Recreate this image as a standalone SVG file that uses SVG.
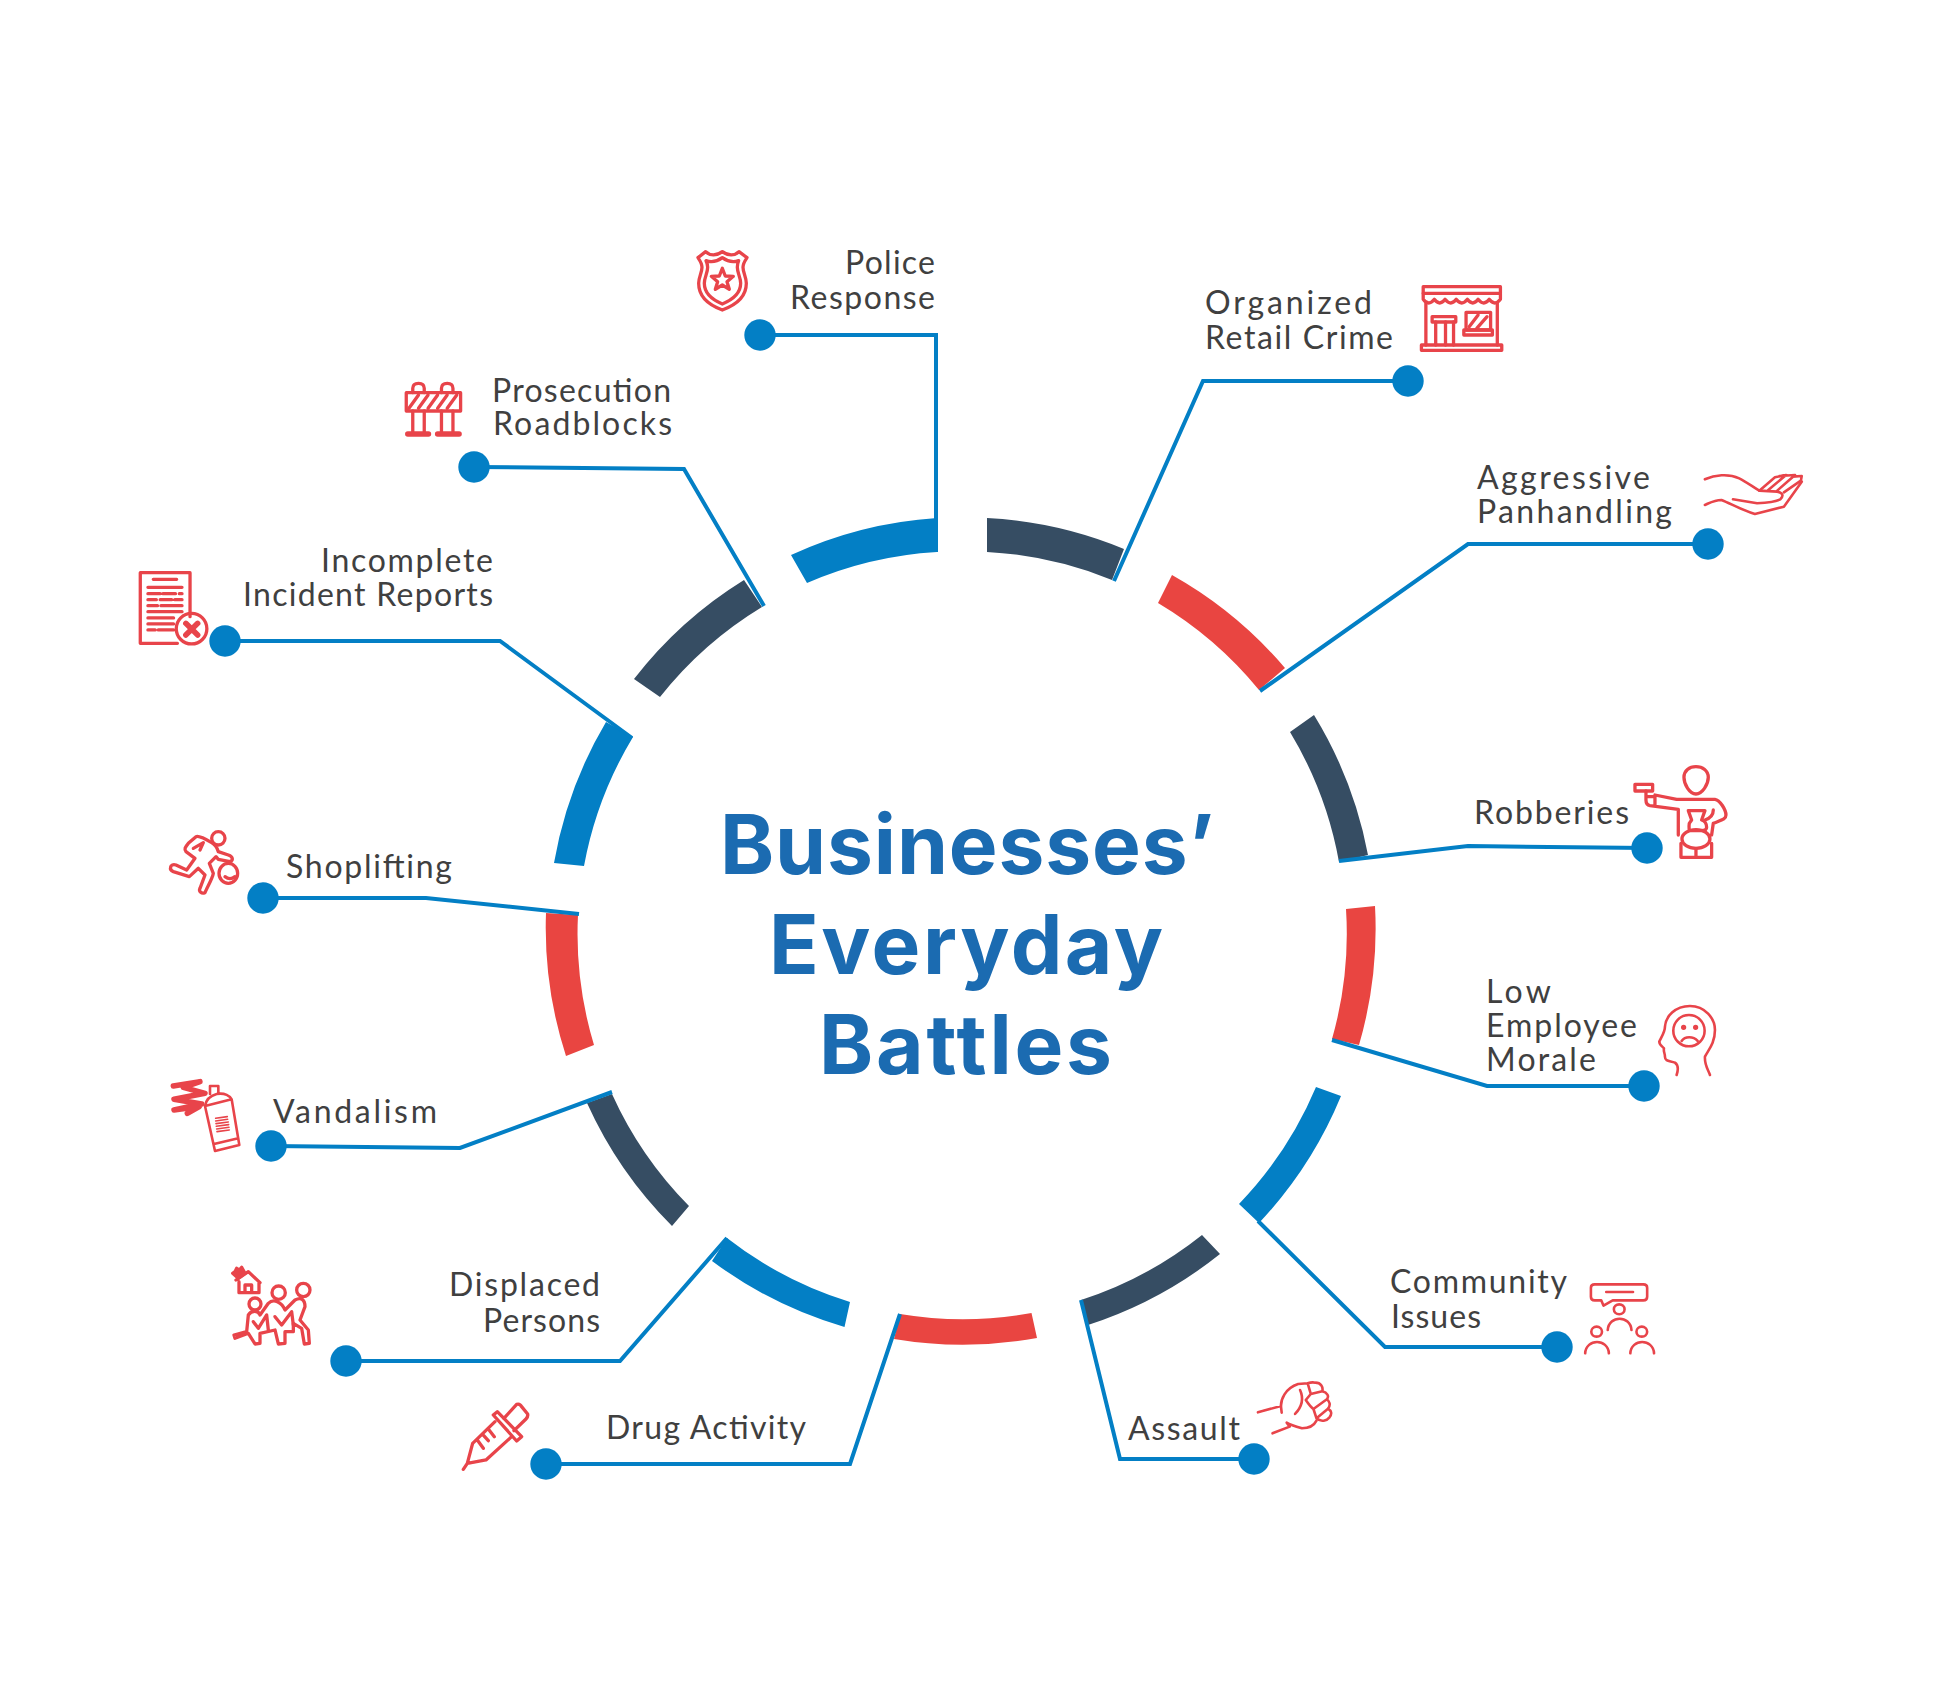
<svg xmlns="http://www.w3.org/2000/svg" width="1942" height="1696" viewBox="0 0 1942 1696">
<style>
text{font-family:"Lato","Liberation Sans",sans-serif;font-size:32px;fill:#404040}
.title{font-family:"Inter","Liberation Sans",sans-serif;font-size:82px;font-weight:700;fill:#1b6bb1}
.blue{fill:#037fc5}.navy{fill:#364d63}.red{fill:#e94541}
.conn{fill:none;stroke:#037fc5;stroke-width:4}
.dot{fill:#037fc5}
.ic *{fill:none;stroke:#e8444a;stroke-width:2.600;stroke-linejoin:round;stroke-linecap:round;vector-effect:non-scaling-stroke}
.ic.h *{stroke-width:3.300}
.ic .thick{stroke-width:5.500}
.ic .thin{stroke-width:1.600}
.ic .solid{fill:#e8444a}
</style>
<rect width="1942" height="1696" fill="#fff"/>
<g id="ring">
<path class="blue" d="M791 555A415 415 0 0 1 937 518L937 552A383 383 0 0 0 807 583Z"/>
<path class="navy" d="M987 518A415 415 0 0 1 1124 549L1112 580A383 383 0 0 0 987 552Z"/>
<path class="red" d="M1172 575A415 415 0 0 1 1285 668L1259 690A383 383 0 0 0 1158 603Z"/>
<path class="navy" d="M1314 715A415 415 0 0 1 1368 855L1339 862A383 383 0 0 0 1290 732Z"/>
<path class="red" d="M1375 906A415 415 0 0 1 1359 1045L1332 1039A383 383 0 0 0 1346 909Z"/>
<path class="blue" d="M1341 1096A415 415 0 0 1 1259 1223L1239 1204A383 383 0 0 0 1316 1087Z"/>
<path class="navy" d="M1220 1254A415 415 0 0 1 1088 1325L1081 1300A383 383 0 0 0 1202 1235Z"/>
<path class="red" d="M1037 1338A415 415 0 0 1 894 1339L900 1314A383 383 0 0 0 1031.500 1313Z"/>
<path class="blue" d="M844.500 1327A415 415 0 0 1 712 1261L727 1238A383 383 0 0 0 850 1302Z"/>
<path class="navy" d="M672 1226A415 415 0 0 1 587 1103L612 1094A383 383 0 0 0 689 1206Z"/>
<path class="red" d="M566 1056A415 415 0 0 1 546 913L578 915A383 383 0 0 0 594 1045Z"/>
<path class="blue" d="M554 863A415 415 0 0 1 606 722L633 737A383 383 0 0 0 584 866Z"/>
<path class="navy" d="M634 679A415 415 0 0 1 744 580L762 607A383 383 0 0 0 660 697Z"/>
</g>
<g id="connectors">
<polyline class="conn" points="760,335 936,335 936,552"/>
<polyline class="conn" points="1408,381 1203,381 1114,581"/>
<polyline class="conn" points="1708,544 1468,544 1260,691"/>
<polyline class="conn" points="1647,848 1468,846 1339,861"/>
<polyline class="conn" points="1644,1086 1487,1086 1332,1040"/>
<polyline class="conn" points="1557,1347 1385,1347 1258,1221"/>
<polyline class="conn" points="1254,1459 1120,1459 1081,1300"/>
<polyline class="conn" points="546,1464 850,1464 900,1314"/>
<polyline class="conn" points="346,1361 620,1361 727,1238"/>
<polyline class="conn" points="271,1146 460,1148 612,1092"/>
<polyline class="conn" points="263,898 426,898 579,914"/>
<polyline class="conn" points="225,641 500,641 632,738"/>
<polyline class="conn" points="474,467 684,469 764,606"/>
</g>
<g id="title">
<text class="title" x="720" y="874" textLength="494">Businesses’</text>
<text class="title" x="769" y="974" textLength="394">Everyday</text>
<text class="title" x="819" y="1074" textLength="293">Battles</text>
</g>
<g id="n-police">
<circle class="dot" cx="760" cy="335" r="15.700"/>
<text x="845" y="274" textLength="90">Police</text><text x="790" y="309" textLength="145">Response</text>
<g class="ic h" transform="translate(650,220) scale(.3333)">
<path d="M217 270C178 256 146 232 146 190C146 172 156 158 156 142C156 130 150 122 144 113L167 95C180 108 200 108 217 95C234 108 254 108 267 95L291 113C285 122 279 130 279 142C279 158 289 172 289 190C289 232 256 256 217 270Z"/>
<path d="M217 252C188 240 163 222 163 190C163 172 173 160 173 142C173 134 171 128 168 122C185 128 202 124 217 113C232 124 249 128 266 122C263 128 262 134 262 142C262 160 272 172 272 190C272 222 246 240 217 252Z"/>
<path d="M217 145L225.800 168L250 169L231 185L238 208L217 195L196 208L203 185L184 169L208 168Z"/>
</g></g>
<g id="n-organized">
<circle class="dot" cx="1408" cy="381" r="15.700"/>
<text x="1205" y="314" textLength="167">Organized</text><text x="1205" y="349" textLength="188">Retail Crime</text>
<g class="ic h" transform="translate(1150,260) scale(.4464,.3333)">
<rect x="612" y="80" width="173" height="20"/>
<path d="M612 100V118Q624 140 637 118Q649 140 661 118Q674 140 686 118Q698 140 711 118Q723 140 735 118Q748 140 760 118Q772 140 785 118V100"/>
<path d="M618 128V255M778 128V255"/>
<rect x="608" y="255" width="180" height="16"/>
<rect x="632" y="170" width="53" height="16"/>
<path d="M640 186V255M662 186V255M680 186V255"/>
<rect x="708" y="157" width="55" height="53"/>
<rect x="703" y="210" width="64" height="15"/>
<path d="M715 200L735 165M732 205L755 170"/>
</g></g>
<g id="n-aggressive">
<circle class="dot" cx="1708" cy="544" r="15.700"/>
<text x="1477" y="489" textLength="173">Aggressive</text><text x="1477" y="523" textLength="195">Panhandling</text>
<g class="ic" transform="translate(1150,260) scale(.4464,.3333)">
<path d="M1243 658C1265 645 1295 640 1320 655C1335 665 1350 680 1365 692L1405 695C1418 698 1420 708 1412 718C1400 726 1385 728 1360 730L1306 718"/>
<path d="M1243 735C1255 728 1265 720 1280 720C1300 730 1325 750 1355 762L1420 740L1460 665"/>
<path d="M1365 692L1400 652L1425 645L1385 690M1410 648L1445 645L1405 692M1440 650L1460 648L1458 662L1420 697"/>
</g></g>
<g id="n-robberies">
<circle class="dot" cx="1647" cy="848" r="15.700"/>
<text x="1474" y="824" textLength="155">Robberies</text>
<g class="ic h" transform="translate(1300,740) scale(.3333)">
<path d="M1188 162C1168 162 1152 132 1152 112C1152 92 1168 80 1188 80C1208 80 1225 92 1225 112C1225 132 1208 162 1188 162Z"/>
<rect x="1005" y="133" width="53" height="20"/>
<path d="M1038 153V180Q1038 195 1050 197L1135 208V285M1038 170H1065V195M1065 165L1130 178H1245C1260 180 1278 210 1278 225C1278 238 1265 240 1240 250L1235 285M1240 210C1240 225 1230 235 1215 240"/>
<path d="M1165 212H1215L1205 240Q1220 245 1220 262Q1220 272 1205 272H1172Q1165 272 1168 250L1175 240Z"/>
<ellipse cx="1188" cy="297" rx="42" ry="28"/>
<path d="M1143 310V352H1235V310M1188 325V352"/>
</g></g>
<g id="n-morale">
<circle class="dot" cx="1644" cy="1086" r="15.700"/>
<text x="1486" y="1003" textLength="65">Low</text><text x="1486" y="1037" textLength="151">Employee</text><text x="1486" y="1071" textLength="110">Morale</text>
<g class="ic" transform="translate(1300,740) scale(.3333)">
<path d="M1130 1005C1135 990 1135 975 1125 968C1110 962 1095 965 1095 950C1095 940 1090 935 1092 925C1088 920 1078 915 1078 905C1085 890 1095 875 1095 860C1097 830 1125 798 1170 798C1215 798 1245 835 1245 870C1245 910 1225 930 1215 950C1213 975 1225 990 1230 1005"/>
<circle cx="1167" cy="872" r="47"/>
<circle cx="1151" cy="862" r="4"/><circle cx="1187" cy="862" r="4"/>
<path d="M1145 903C1155 888 1180 888 1193 903"/>
</g></g>
<g id="n-community">
<circle class="dot" cx="1557" cy="1347" r="15.700"/>
<text x="1390" y="1293" textLength="177">Community</text><text x="1391" y="1328" textLength="90">Issues</text>
<g class="ic" transform="translate(1080,1230) scale(.3827,.3333)">
<path d="M1345 163H1472Q1482 163 1482 173V200Q1482 211 1472 211H1392L1368 227L1362 211H1345Q1335 211 1335 200V173Q1335 163 1345 163Z"/>
<path d="M1375 186H1445"/>
<ellipse cx="1409" cy="238" rx="14" ry="15"/><path d="M1379 300C1382 255 1438 255 1441 300"/>
<ellipse cx="1350" cy="305" rx="14" ry="15"/><path d="M1320 370C1322 325 1380 325 1382 370"/>
<ellipse cx="1468" cy="305" rx="14" ry="15"/><path d="M1438 370C1440 325 1498 325 1500 370"/>
</g></g>
<g id="n-assault">
<circle class="dot" cx="1254" cy="1459" r="15.700"/>
<text x="1128" y="1440" textLength="112">Assault</text>
<g class="ic" transform="translate(1080,1230) scale(.3827,.3333)">
<path d="M465 547L525 528C525 510 535 475 570 462L595 460L603 492L590 510C597 522 604 532 610 537L618 565C630 578 645 572 652 562C660 550 656 542 648 536C656 525 652 514 645 508C652 498 646 488 633 484C636 472 630 458 615 458C606 456 600 458 595 460M603 492L633 484M610 537L645 508M618 565L648 536"/>
<path d="M618 572C610 590 595 595 580 595C565 590 550 585 540 578L548 590L503 610M575 480C585 505 580 530 562 552M525 528L527 548"/>
</g></g>
<g id="n-drug">
<circle class="dot" cx="546" cy="1464" r="15.700"/>
<text x="606" y="1439" textLength="200">Drug Activity</text>
<g class="ic h" transform="translate(210,1240) scale(.3333)">
<path d="M850 525L862 515L935 590L920 603Z"/>
<path d="M882 535L920 493Q930 490 935 500L953 522Q955 530 948 537L912 572"/>
<path d="M855 545L788 610L772 670L828 660L905 590M772 670L760 688M835 567L853 590M818 583L835 602M802 600L820 625"/>
</g></g>
<g id="n-displaced">
<circle class="dot" cx="346" cy="1361" r="15.700"/>
<text x="449" y="1296" textLength="151">Displaced</text><text x="483" y="1332" textLength="117">Persons</text>
<g class="ic h" transform="translate(210,1240) scale(.3333)">
<path d="M78 120L115 95L150 128M87 125V158H147V125M105 158V135H125V158"/>
<path class="solid" d="M68 100L75 95L80 85L88 90L95 82L105 100L85 115Z"/>
<circle cx="135" cy="192" r="18"/><circle cx="206" cy="158" r="20"/><circle cx="280" cy="150" r="20"/>
<path d="M72 285L110 275L115 225C125 210 145 210 150 225L175 190C190 175 215 185 225 210L255 180C275 170 285 180 285 200L270 240L295 270L298 310L283 312L275 265L250 250L250 275L225 275L225 310L205 312L195 270L150 280L150 310L135 312L115 280L75 295Z"/>
<path d="M130 245L145 265L170 225L175 270M195 230L215 255L245 215L250 255"/>
</g></g>
<g id="n-vandalism">
<circle class="dot" cx="271" cy="1146" r="15.700"/>
<text x="273" y="1123" textLength="164">Vandalism</text>
<g class="ic" transform="translate(150,820) scale(.3333)">
<path class="thick" d="M70 798L150 785L100 802L165 820L72 838L155 852L72 870L148 860L112 880"/>
<path d="M165 858L245 838L268 975L195 993ZM165 858C168 838 178 828 200 822C225 818 240 828 245 838M180 822V798H205V822M192 972L265 955"/>
<path class="thin" d="M197 895L232 890M197 903L233 898M198 911L235 906M199 919L236 914M200 927L237 922M201 935L238 930"/>
</g></g>
<g id="n-shoplifting">
<circle class="dot" cx="263" cy="898" r="15.700"/>
<text x="286" y="878" textLength="166">Shoplifting</text>
<g class="ic h" transform="translate(150,820) scale(.3333)">
<circle cx="205" cy="55" r="20"/>
<path d="M62 142C62 135 70 132 78 135L110 150L135 115L108 95C102 88 105 82 115 70L138 50C145 47 155 50 185 68C192 72 200 78 205 95L235 105C250 110 250 122 240 125L205 118L198 110L178 130L190 160C188 175 170 205 165 218C155 222 145 215 150 205L165 165L145 145L118 170L70 155C62 152 60 148 62 142Z"/>
<path d="M130 85L160 68L150 90"/>
<ellipse cx="235" cy="160" rx="28" ry="30"/>
<path d="M225 170Q240 182 255 170"/>
</g></g>
<g id="n-incomplete">
<circle class="dot" cx="225" cy="641" r="15.700"/>
<text x="321" y="572" textLength="172">Incomplete</text><text x="243" y="606" textLength="250">Incident Reports</text>
<g class="ic h" transform="translate(120,360) scale(.3827,.3333)">
<path d="M150 850H53V638H183V770"/>
<path d="M87 658H148M73 682H162M73 701H105M112 701H145M155 701H162M73 719H95M105 719H135M143 719H162M73 737H98M107 737H162M73 755H162M73 774H140M73 792H140M73 810H92M100 810H140"/>
<ellipse cx="187" cy="806" rx="40" ry="46"/>
<path class="thick" d="M172 790L203 825M203 790L172 825"/>
</g></g>
<g id="n-prosecution">
<circle class="dot" cx="474" cy="467" r="15.700"/>
<text x="492" y="402" textLength="179">Prosecution</text><text x="493" y="435" textLength="179">Roadblocks</text>
<g class="ic h" transform="translate(120,360) scale(.3827,.3333)">
<rect x="748" y="98" width="142" height="55"/>
<path d="M755 145L780 105M780 145L805 105M805 145L830 105M830 145L855 105M855 145L880 105"/>
<path d="M765 98V85Q765 70 780 70Q795 70 795 85V98M840 98V85Q840 70 855 70Q870 70 870 85V98M765 153V220M795 153V220M840 153V220M870 153V220"/>
<path class="thick" d="M752 222H806M830 222H886"/>
</g></g>
</svg>
